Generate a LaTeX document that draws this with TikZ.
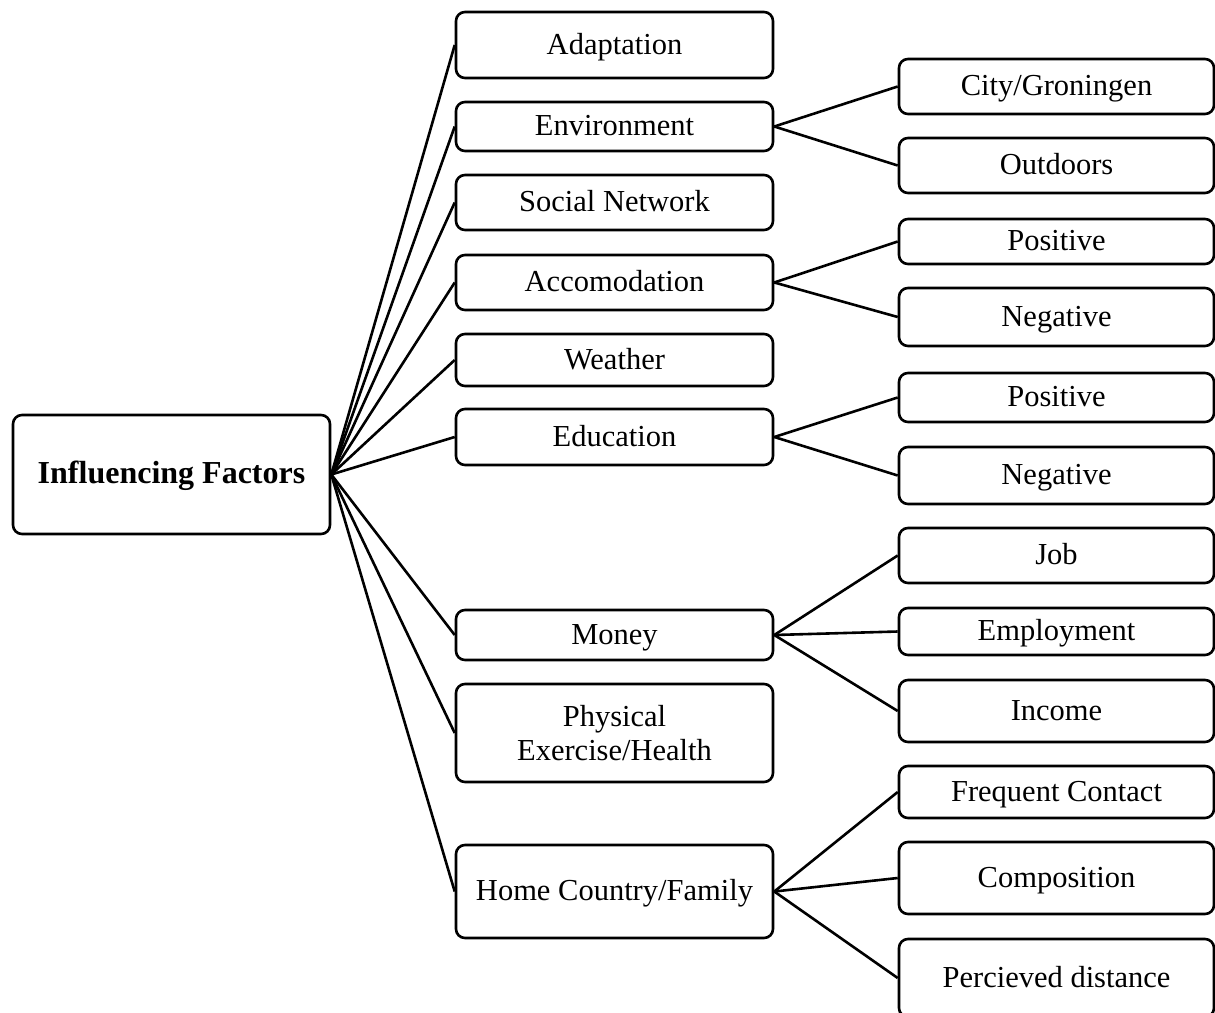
\documentclass[tikz,border=0pt]{standalone}
\usepackage{fontspec}
\setmainfont{Liberation Serif}
\begin{document}
\begin{tikzpicture}[x=1pt,y=-1pt,
  boxbase/.style={draw, line width=2.6pt, rounded corners=9pt, inner sep=0pt,
    font=\fontsize{30.5}{33.5}\selectfont, align=center},
  box/.style={boxbase, text height=23pt, text depth=5pt},
  mid/.style={box, minimum width=317pt},
  leaf/.style={box, minimum width=315pt},
  link/.style={line width=2.6pt}]
\clip (0,0) rectangle (1215,1012);
\useasboundingbox (0,0) rectangle (1215,1012);
% root
\node[box, minimum width=317pt, minimum height=119pt, font=\fontsize{32}{36}\selectfont\bfseries] (root) at (171.5,474.5) {Influencing Factors};
% middle column
\node[mid, minimum height=66pt] (adapt) at (614.5,45) {Adaptation};
\node[mid, minimum height=49pt] (env) at (614.5,126.5) {Environment};
\node[mid, minimum height=55pt] (soc) at (614.5,202.5) {Social Network};
\node[mid, minimum height=55pt] (acc) at (614.5,282.5) {Accomodation};
\node[mid, minimum height=52pt] (wea) at (614.5,360) {Weather};
\node[mid, minimum height=56pt] (edu) at (614.5,437) {Education};
\node[mid, minimum height=50pt] (mon) at (614.5,635) {Money};
\node[boxbase, minimum width=317pt, minimum height=98pt] (phy) at (614.5,733) {Physical\\Exercise/Health};
\node[mid, minimum height=93pt] (home) at (614.5,891.5) {Home Country/Family};
% right column
\node[leaf, minimum height=55pt] (city) at (1056.5,86.5) {City/Groningen};
\node[leaf, minimum height=55pt] (out) at (1056.5,165.5) {Outdoors};
\node[leaf, minimum height=45pt] (posa) at (1056.5,241.5) {Positive};
\node[leaf, minimum height=58pt] (nega) at (1056.5,317) {Negative};
\node[leaf, minimum height=49pt] (posb) at (1056.5,397.5) {Positive};
\node[leaf, minimum height=57pt] (negb) at (1056.5,475.5) {Negative};
\node[leaf, minimum height=55pt] (job) at (1056.5,555.5) {Job};
\node[leaf, minimum height=47pt] (emp) at (1056.5,631.5) {Employment};
\node[leaf, minimum height=62pt] (inc) at (1056.5,711) {Income};
\node[leaf, minimum height=52pt] (freq) at (1056.5,792) {Frequent Contact};
\node[leaf, minimum height=72pt] (comp) at (1056.5,878) {Composition};
\node[leaf, minimum height=78pt] (perc) at (1056.5,978) {Percieved distance};
% connectors
\foreach \m in {adapt,env,soc,acc,wea,edu,mon,phy,home}
  \draw[link] (root.east) -- (\m.west);
\draw[link] (env.east) -- (city.west);
\draw[link] (env.east) -- (out.west);
\draw[link] (acc.east) -- (posa.west);
\draw[link] (acc.east) -- (nega.west);
\draw[link] (edu.east) -- (posb.west);
\draw[link] (edu.east) -- (negb.west);
\draw[link] (mon.east) -- (job.west);
\draw[link] (mon.east) -- (emp.west);
\draw[link] (mon.east) -- (inc.west);
\draw[link] (home.east) -- (freq.west);
\draw[link] (home.east) -- (comp.west);
\draw[link] (home.east) -- (perc.west);
\end{tikzpicture}
\end{document}
